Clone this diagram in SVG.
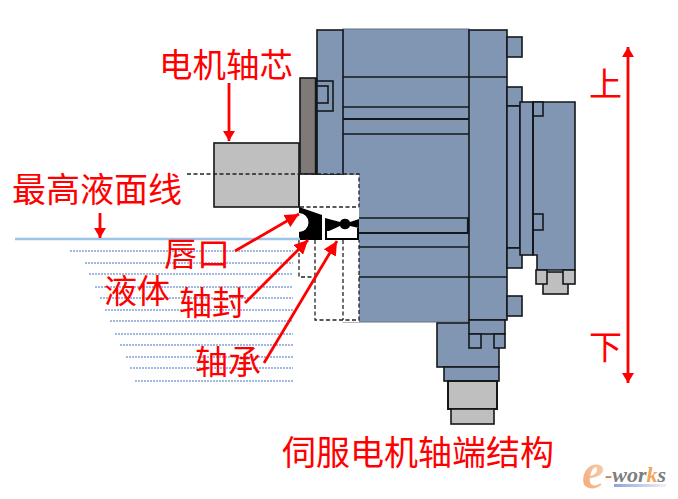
<svg xmlns="http://www.w3.org/2000/svg" width="678" height="499" viewBox="0 0 678 499">
<style>
.b{fill:#8096b2;stroke:#14181c;stroke-width:1.6}
.g{fill:#bfbfbf;stroke:#14181c;stroke-width:1.6}
.l{fill:none;stroke:#14181c;stroke-width:1.6}
.d{fill:none;stroke:#222;stroke-width:1.3;stroke-dasharray:4 2.5}
.w{fill:none;stroke:#a3b9e2;stroke-width:2;stroke-dasharray:2 1}
.a{fill:none;stroke:#ff0000;stroke-width:2.800}
.t{font-family:"Noto Sans CJK SC","Noto Sans",sans-serif;fill:#ff0000;font-size:33px}
</style>
<defs>
<marker id="h" markerUnits="userSpaceOnUse" markerWidth="15" markerHeight="14" refX="14" refY="7" orient="auto-start-reverse"><path d="M0 0L14 7L0 14z" fill="#ff0000"/></marker>
<marker id="s" markerUnits="userSpaceOnUse" markerWidth="11" markerHeight="12" refX="10" refY="6" orient="auto-start-reverse"><path d="M0 0L10 6L0 12z" fill="#ff0000"/></marker>
<linearGradient id="eg" x1="0" y1="1" x2="1" y2="0"><stop offset="0" stop-color="#f4a270"/><stop offset="1" stop-color="#f9d9bf"/></linearGradient>
<linearGradient id="ug" x1="0" y1="0" x2="1" y2="0"><stop offset="0" stop-color="#8fa3d4"/><stop offset="1" stop-color="#eef1f9"/></linearGradient>
</defs>

<g id="motor-body">
<rect x="343" y="29" width="126" height="293" class="b" style="stroke:#5f7088;stroke-width:1"/>
<rect x="317" y="30" width="26" height="145" class="b"/>
<rect x="469" y="30" width="38" height="290" class="b"/>
<path d="M343 77H507M343 107H469M343 134H469M343 218H469M343 247H469M343 277H507" class="l"/>
<path d="M343 119H469M343 233H469M468 218V233" class="l" style="stroke-width:2.200"/>
<rect x="507" y="37" width="15" height="20" class="b"/>
<rect x="507" y="87" width="15" height="19" class="b"/>
<rect x="507" y="106" width="13" height="142" class="b"/>
<rect x="507" y="248" width="15" height="20" class="b"/>
<rect x="507" y="296" width="15" height="20" class="b"/>
<rect x="520" y="102" width="13" height="153" class="b"/>
<path d="M533 102H575V270H537V255H533z" class="b"/>
<rect x="533" y="102" width="10" height="14" class="b"/>
<rect x="533" y="214" width="10" height="16" class="b"/>
<path d="M533 102V255" class="l" style="stroke-width:2"/>
</g>

<g id="rear-cap">
<rect x="543" y="272" width="25" height="22" class="g"/>
<rect x="536" y="270" width="11" height="14" class="g"/>
<rect x="563" y="270" width="12" height="14" class="g"/>
</g>

<g id="connector-block">
<rect x="437" y="323" width="62" height="44" class="b"/>
<rect x="469" y="320" width="36" height="14" class="b"/>
<rect x="469" y="334" width="12" height="14" class="b"/>
<rect x="494" y="334" width="11" height="14" class="b"/>
<rect x="444" y="367" width="55" height="14" class="b"/>
<rect x="448" y="381" width="49" height="28" class="g" style="stroke-width:2"/>
<rect x="451" y="409" width="43" height="15" class="g"/>
</g>

<g id="flange">
<rect x="300" y="78" width="16" height="96" fill="#7f7a78" stroke="#14181c" stroke-width="1.6"/>
<path d="M316 78V175" class="l" style="stroke-width:2.400"/>
<rect x="317" y="81" width="16" height="30" class="b"/>
<rect x="317" y="86" width="11" height="17" class="b"/>
</g>

<g id="shaft">
<rect x="214" y="143" width="85" height="64" class="g"/>
</g>

<g id="seal-cavity">
<rect x="300" y="175" width="59" height="147" fill="#ffffff"/>
<path d="M299 174V207" class="l"/>
<path d="M187 174H359V207M300 207H359" class="d"/>
<path d="M299 240V277H315M315 240V320H359V240M343 240V320" class="d"/>
</g>

<g id="lip-seal">
<path d="M299 207L322 215V240H299V232A9.500 9.500 0 0 0 299 213z" fill="#000000"/>
</g>

<g id="bearing">
<path d="M325 218L340 222A5.500 5.500 0 0 1 350 222L359 219V228L350 226A5.500 5.500 0 0 1 340 226L329 231H325z" fill="#000000"/>
<path d="M326 219V239H358V228" fill="none" stroke="#000" stroke-width="2"/>
</g>

<g id="liquid">
<path d="M15 239H300" fill="none" stroke="#9dc3e6" stroke-width="2.600"/>
<path d="M70 251H293M85 263H293M89 274H293M95 287H293M100 298H293M105 310H293M110 321H293M115 334H293M120 345H293M126 357H293M130 368H293M135 381H293" class="w"/>
</g>

<g id="connectors">
<path d="M229 83V141" class="a" marker-end="url(#s)"/>
<path d="M100 213V238" class="a" marker-end="url(#s)"/>
<path d="M628 47V383" class="a" marker-start="url(#s)" marker-end="url(#s)"/>
<path d="M235 251L299 214" class="a" marker-end="url(#h)"/>
<path d="M245 303L308 240" class="a" marker-end="url(#h)"/>
<path d="M264 363L337 241" class="a" marker-end="url(#h)"/>
</g>

<g id="labels">
<text class="t" x="159" y="77" style="font-size:33.500px">电机轴芯</text>
<text class="t" x="12" y="202" style="font-size:34px">最高液面线</text>
<text class="t" x="164" y="266">唇口</text>
<text class="t" x="104" y="303">液体</text>
<text class="t" x="179" y="315">轴封</text>
<text class="t" x="195" y="374">轴承</text>
<text class="t" x="589" y="96">上</text>
<text class="t" x="589" y="359">下</text>
<text class="t" x="282" y="465" style="font-size:34px">伺服电机轴端结构</text>
</g>

<g id="logo">
<text x="582" y="488" font-family="Liberation Serif,serif" font-style="italic" font-weight="bold" font-size="50" fill="url(#eg)">e</text>
<text x="605" y="482" font-family="Liberation Serif,serif" font-style="italic" font-weight="bold" font-size="22" fill="#7b7d80"><tspan fill="#c9824a">-</tspan>wor<tspan fill="#f2a55c">k</tspan>s</text>
<rect x="614" y="484" width="52" height="3" fill="url(#ug)"/>
</g>
</svg>
